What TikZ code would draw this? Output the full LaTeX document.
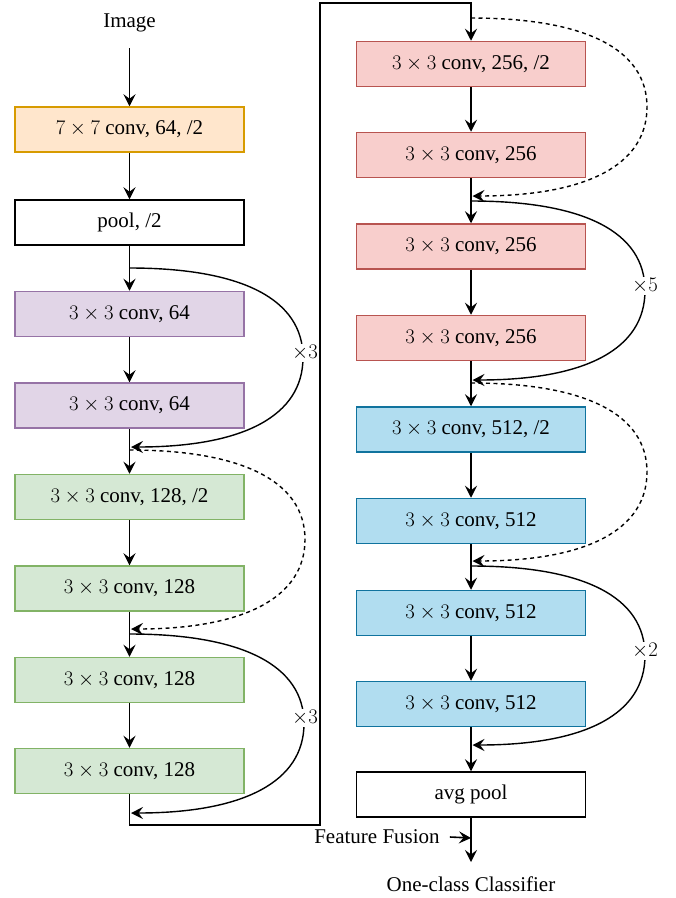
\documentclass[tikz,border=0pt]{standalone}
\usepackage{fontspec}
\setmainfont{Liberation Serif}
\usetikzlibrary{arrows.meta}
\definecolor{orfill}{HTML}{FFE6CC}\definecolor{ordraw}{HTML}{D79B00}
\definecolor{pufill}{HTML}{E1D5E7}\definecolor{pudraw}{HTML}{9673A6}
\definecolor{grfill}{HTML}{D5E8D4}\definecolor{grdraw}{HTML}{82B366}
\definecolor{refill}{HTML}{F8CECC}\definecolor{redraw}{HTML}{B85450}
\definecolor{blfill}{HTML}{B1DDF0}\definecolor{bldraw}{HTML}{10739E}
\tikzset{
  layer/.style={draw, line width=1.5pt, minimum width=229pt, minimum height=45pt, inner sep=0pt, font=\fontsize{21}{25}\selectfont},
  orbox/.style={layer, fill=orfill, draw=ordraw},
  pubox/.style={layer, fill=pufill, draw=pudraw},
  grbox/.style={layer, fill=grfill, draw=grdraw},
  rebox/.style={layer, fill=refill, draw=redraw},
  blbox/.style={layer, fill=blfill, draw=bldraw},
  whbox/.style={layer, fill=white, draw=black},
  plain/.style={font=\fontsize{21}{25}\selectfont, inner sep=0pt},
  arr/.style={line width=1.6pt, -{Stealth[length=12pt,width=12pt,inset=4.5pt]}},
  solidc/.style={arr, line width=1.4pt},
  dashc/.style={arr, line width=1.4pt, dash pattern=on 4pt off 3.5pt},
  rep/.style={fill=white, inner sep=1pt, font=\fontsize{21}{25}\selectfont}
}
\begin{document}
\begin{tikzpicture}[x=1pt,y=-1pt]
\useasboundingbox (0,0) rectangle (676,898);
% left column
\node[plain] (img) at (129.5,23) {Image};
\coordinate (imgout) at (129.5,48);
\node[orbox] (c7) at (129.5,129.5) {$7\times7$ conv, 64, /2};
\node[whbox] (pool) at (129.5,222.5) {pool, /2};
\node[pubox] (p1) at (129.5,314) {$3\times3$ conv, 64};
\node[pubox] (p2) at (129.5,405.5) {$3\times3$ conv, 64};
\node[grbox] (g1) at (129.5,497) {$3\times3$ conv, 128, /2};
\node[grbox] (g2) at (129.5,588.5) {$3\times3$ conv, 128};
\node[grbox] (g3) at (129.5,680) {$3\times3$ conv, 128};
\node[grbox] (g4) at (129.5,771) {$3\times3$ conv, 128};
% right column
\node[rebox] (r1) at (471,64) {$3\times3$ conv, 256, /2};
\node[rebox] (r2) at (471,155) {$3\times3$ conv, 256};
\node[rebox] (r3) at (471,246.5) {$3\times3$ conv, 256};
\node[rebox] (r4) at (471,338) {$3\times3$ conv, 256};
\node[blbox] (b1) at (471,429.5) {$3\times3$ conv, 512, /2};
\node[blbox] (b2) at (471,521) {$3\times3$ conv, 512};
\node[blbox] (b3) at (471,613) {$3\times3$ conv, 512};
\node[blbox] (b4) at (471,704) {$3\times3$ conv, 512};
\node[whbox] (avg) at (471,794.5) {avg pool};
\node[plain] (ff) at (377,837) {Feature Fusion};
\coordinate (fuse) at (471,838);
\coordinate (clsin) at (471,862);
\node[plain] (cls) at (471,884) {One-class Classifier};
% straight arrows
\draw[arr] (imgout) -- (c7.north);
\draw[arr] (c7.south) -- (pool.north);
\draw[arr] (pool.south) -- (p1.north);
\draw[arr] (p1.south) -- (p2.north);
\draw[arr] (p2.south) -- (g1.north);
\draw[arr] (g1.south) -- (g2.north);
\draw[arr] (g2.south) -- (g3.north);
\draw[arr] (g3.south) -- (g4.north);
\coordinate (t1) at (320,825);
\coordinate (t2) at (471,3);
\draw[arr] (g4.south) |- (t1) |- (t2) -- (r1.north);
\draw[arr] (r1.south) -- (r2.north);
\draw[arr] (r2.south) -- (r3.north);
\draw[arr] (r3.south) -- (r4.north);
\draw[arr] (r4.south) -- (b1.north);
\draw[arr] (b1.south) -- (b2.north);
\draw[arr] (b2.south) -- (b3.north);
\draw[arr] (b3.south) -- (b4.north);
\draw[arr] (b4.south) -- (avg.north);
\draw[arr] (avg.south) -- (clsin);
\draw[arr] ([xshift=10pt]ff.east) -- (fuse);
% loops: start, mid, end
\coordinate (la1) at (129.5,268); \coordinate (lm1) at (303,357.5); \coordinate (le1) at (131,447);
\coordinate (la2) at (129.5,450); \coordinate (lm2) at (305,539.5); \coordinate (le2) at (131,629);
\coordinate (la3) at (129.5,634); \coordinate (lm3) at (304,723.5); \coordinate (le3) at (131,813);
\coordinate (ra1) at (471,18);  \coordinate (rm1) at (647,107);  \coordinate (re1) at (472.5,196);
\coordinate (ra2) at (471,201); \coordinate (rm2) at (645,290.5); \coordinate (re2) at (472.5,380);
\coordinate (ra3) at (471,383); \coordinate (rm3) at (647,472);  \coordinate (re3) at (472.5,561);
\coordinate (ra4) at (471,566); \coordinate (rm4) at (645,655.5); \coordinate (re4) at (472.5,745);
\draw[solidc] (la1) .. controls +(113,0) and +(0,-58) .. (lm1) .. controls +(0,58) and +(113,0) .. (le1);
\draw[dashc] (la2) .. controls +(113,0) and +(0,-58) .. (lm2) .. controls +(0,58) and +(113,0) .. (le2);
\draw[solidc] (la3) .. controls +(113,0) and +(0,-58) .. (lm3) .. controls +(0,58) and +(113,0) .. (le3);
\draw[dashc] (ra1) .. controls +(114,0) and +(0,-58) .. (rm1) .. controls +(0,58) and +(114,0) .. (re1);
\draw[solidc] (ra2) .. controls +(114,0) and +(0,-58) .. (rm2) .. controls +(0,58) and +(114,0) .. (re2);
\draw[dashc] (ra3) .. controls +(114,0) and +(0,-58) .. (rm3) .. controls +(0,58) and +(114,0) .. (re3);
\draw[solidc] (ra4) .. controls +(114,0) and +(0,-58) .. (rm4) .. controls +(0,58) and +(114,0) .. (re4);
\node[rep] (x1) at (305,353) {$\times3$};
\node[rep] (x2) at (305,718) {$\times3$};
\node[rep] (x3) at (645,286) {$\times5$};
\node[rep] (x4) at (645,651) {$\times2$};
\end{tikzpicture}
\end{document}
